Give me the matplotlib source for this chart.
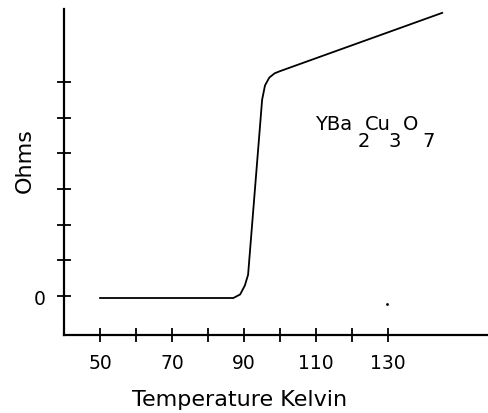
import numpy as np
import matplotlib
matplotlib.use('Agg')
import matplotlib.pyplot as plt

# resistance curve of YBa2Cu3O7 (y in tick units)
temp = [50, 87, 88.9, 90.2, 91.1, 95.0, 95.8, 97.0, 98.5, 100, 145]
ohms = [-0.05, -0.05, 0.05, 0.3, 0.6, 5.5, 5.9, 6.12, 6.24, 6.3, 7.93]

xticks = [50, 60, 70, 80, 90, 100, 110, 120, 130]
xlabels = ['50', '', '70', '', '90', '', '110', '', '130']
yticks = [0, 1, 2, 3, 4, 5, 6]
ylabels = ['0', '', '', '', '', '', '']

# formula label pieces: (text, x, baseline)
formula = [('YBa', 109.7, 4.68), ('2', 121.4, 4.20), ('Cu', 123.6, 4.68),
           ('3', 130.0, 4.20), ('O', 134.2, 4.68), ('7', 139.4, 4.20)]

fig = plt.figure(figsize=(4.89, 4.14), dpi=100)
ax = fig.add_axes([0.131, 0.188, 0.869, 0.788])

ax.plot(temp, ohms, color='black', lw=1.3)
ax.plot([129.7], [-0.22], marker='.', ms=2, color='black')

for txt, x, y in formula:
    ax.text(x, y, txt, fontsize=14, ha='left', va='baseline')

ax.set_xlim(40, 158)
ax.set_ylim(-1.09, 8.04)
ax.set_xticks(xticks)
ax.set_xticklabels(xlabels)
ax.set_yticks(yticks)
ax.set_yticklabels(ylabels)

for s in ['top', 'right']:
    ax.spines[s].set_visible(False)
for s in ['left', 'bottom']:
    ax.spines[s].set_linewidth(1.6)

ax.tick_params(axis='both', direction='inout', length=10, width=1.3, labelsize=13.5)
ax.tick_params(axis='x', pad=8)
ax.tick_params(axis='y', pad=8)

ax.set_xlabel('Temperature Kelvin', fontsize=16)
ax.xaxis.set_label_coords((240 - 64) / 425, -0.165)
ax.set_ylabel('Ohms', fontsize=16)
ax.yaxis.set_label_coords(-0.068, 0.537)

fig.savefig('out.png', dpi=100)
